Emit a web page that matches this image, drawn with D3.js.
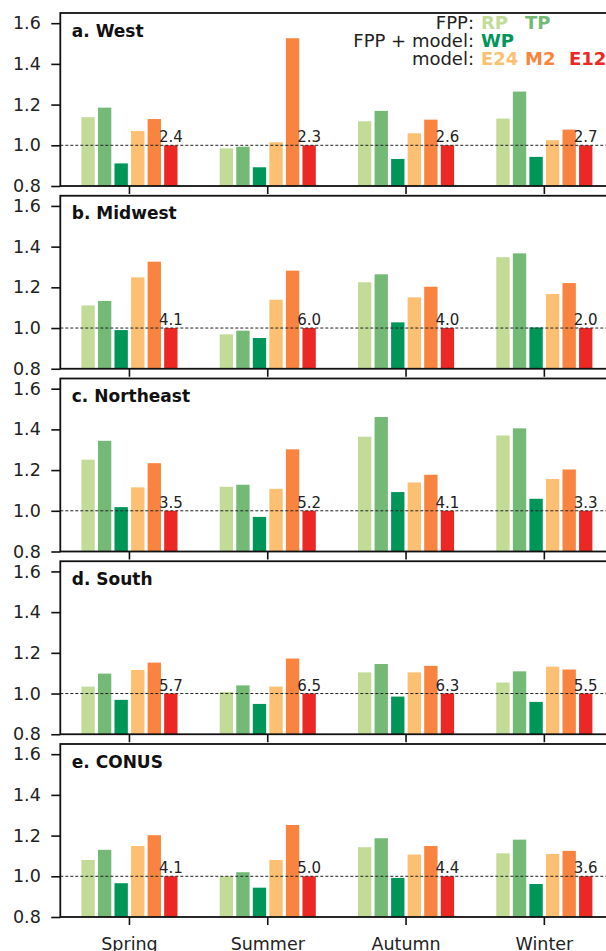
<!DOCTYPE html>
<html>
<head>
<meta charset="utf-8">
<script src="https://cdn.jsdelivr.net/npm/d3@7"></script>
<style>
  html, body { margin: 0; padding: 0; background: #fff; }
  svg { display: block; font-family: "DejaVu Sans", sans-serif; }
</style>
</head>
<body>
<svg id="chart" width="606" height="951"></svg>
<script>
// Seasons on the x axis and the six estimate types (bars in each group)
const seasons = ["Spring", "Summer", "Autumn", "Winter"];
const seriesNames = ["RP", "TP", "WP", "E24", "M2", "E12"];
const seriesColors = ["#c2dc98", "#75b977", "#00965a", "#fdbf71", "#f8843f", "#ec2825"];

// Ratios relative to E12, one row per series (RP, TP, WP, E24, M2, E12), one column per season
const west = [
  [1.138, 0.985, 1.118, 1.131],
  [1.185, 0.993, 1.169, 1.264],
  [0.911, 0.892, 0.933, 0.943],
  [1.070, 1.015, 1.059, 1.025],
  [1.129, 1.526, 1.126, 1.077],
  [1.0, 1.0, 1.0, 1.0]
];
const midwest = [
  [1.111, 0.969, 1.225, 1.348],
  [1.133, 0.987, 1.264, 1.367],
  [0.990, 0.951, 1.028, 1.003],
  [1.249, 1.139, 1.151, 1.167],
  [1.326, 1.282, 1.203, 1.221],
  [1.0, 1.0, 1.0, 1.0]
];
const northeast = [
  [1.251, 1.118, 1.364, 1.370],
  [1.344, 1.128, 1.461, 1.405],
  [1.018, 0.970, 1.092, 1.059],
  [1.115, 1.108, 1.139, 1.156],
  [1.234, 1.302, 1.177, 1.203],
  [1.0, 1.0, 1.0, 1.0]
];
const south = [
  [1.034, 1.008, 1.104, 1.054],
  [1.098, 1.040, 1.145, 1.109],
  [0.969, 0.949, 0.985, 0.959],
  [1.116, 1.034, 1.104, 1.132],
  [1.152, 1.172, 1.136, 1.118],
  [1.0, 1.0, 1.0, 1.0]
];
const conus = [
  [1.080, 1.000, 1.143, 1.113],
  [1.130, 1.020, 1.187, 1.180],
  [0.966, 0.944, 0.992, 0.962],
  [1.149, 1.080, 1.107, 1.110],
  [1.202, 1.252, 1.149, 1.125],
  [1.0, 1.0, 1.0, 1.0]
];

// Numbers printed above the E12 bar of each season
const westLabels = ["2.4", "2.3", "2.6", "2.7"];
const midwestLabels = ["4.1", "6.0", "4.0", "2.0"];
const northeastLabels = ["3.5", "5.2", "4.1", "3.3"];
const southLabels = ["5.7", "6.5", "6.3", "5.5"];
const conusLabels = ["4.1", "5.0", "4.4", "3.6"];

const panelTitles = ["a. West", "b. Midwest", "c. Northeast", "d. South", "e. CONUS"];
const yTicks = [0.8, 1.0, 1.2, 1.4, 1.6];
const yDomain = [0.8, 1.65];

const panels = [
  { title: panelTitles[0], values: west, labels: westLabels },
  { title: panelTitles[1], values: midwest, labels: midwestLabels },
  { title: panelTitles[2], values: northeast, labels: northeastLabels },
  { title: panelTitles[3], values: south, labels: southLabels },
  { title: panelTitles[4], values: conus, labels: conusLabels }
];

// Layout
const left = 60.3, right = 613.5;
const firstTop = 13, panelStep = 182.75, panelH = 173;

const svg = d3.select("#chart");

const x = d3.scaleBand().domain(seasons).range([left, right]).padding(0);
const inner = d3.scaleBand().domain(seriesNames)
  .range([-x.bandwidth() * 0.359, x.bandwidth() * 0.359]).padding(0);
const barW = inner.bandwidth() - 3.2;
const color = d3.scaleOrdinal().domain(seriesNames).range(seriesColors);

panels.forEach((p, i) => {
  const top = firstTop + i * panelStep;
  const bottom = top + panelH;
  const y = d3.scaleLinear().domain(yDomain).range([bottom, top]);
  const g = svg.append("g");

  // bars
  seriesNames.forEach((s, si) => {
    g.selectAll(null)
      .data(p.values[si].map((v, k) => ({ season: seasons[k], v })))
      .join("rect")
      .attr("x", d => x(d.season) + x.bandwidth() / 2 + inner(s) + (inner.bandwidth() - barW) / 2)
      .attr("width", barW)
      .attr("y", d => y(d.v))
      .attr("height", d => y(yDomain[0]) - y(d.v))
      .attr("fill", color(s));
  });

  // reference line at 1.0
  g.append("line")
    .attr("x1", left).attr("x2", 606)
    .attr("y1", y(1)).attr("y2", y(1))
    .attr("stroke", "#222").attr("stroke-width", 1)
    .attr("stroke-dasharray", "3,2");

  // value labels above the E12 bars
  g.selectAll(null)
    .data(p.labels.map((t, k) => ({ t, season: seasons[k], v: p.values[5][k] })))
    .join("text")
    .attr("x", d => x(d.season) + x.bandwidth() / 2 + inner("E12") + inner.bandwidth() / 2)
    .attr("y", d => y(d.v) - 3)
    .attr("text-anchor", "middle")
    .attr("font-size", 15)
    .attr("fill", "#222")
    .text(d => d.t);

  // y axis
  const yAxis = d3.axisLeft(y).tickValues(yTicks).tickFormat(d3.format(".1f"))
    .tickSize(9).tickPadding(10.5);
  const ya = g.append("g").attr("transform", `translate(${left},0)`).call(yAxis);
  ya.select(".domain").remove();
  ya.selectAll(".tick line").attr("stroke", "#111").attr("stroke-width", 1.6);
  ya.selectAll(".tick text").attr("font-size", 17.5).attr("fill", "#222")
    .attr("font-family", "DejaVu Sans");

  // x axis
  const xAxis = d3.axisBottom(x).tickSize(8).tickPadding(13);
  const xa = g.append("g").attr("transform", `translate(0,${bottom})`).call(xAxis);
  xa.select(".domain").remove();
  xa.selectAll(".tick line").attr("stroke", "#111").attr("stroke-width", 1.6);
  xa.selectAll(".tick text").attr("font-size", 17.5).attr("fill", "#222")
    .attr("font-family", "DejaVu Sans");
  if (i < panels.length - 1) xa.selectAll(".tick text").remove();

  // frame
  g.append("rect")
    .attr("x", left).attr("y", top)
    .attr("width", right - left).attr("height", panelH)
    .attr("fill", "none").attr("stroke", "#111").attr("stroke-width", 1.8);

  // panel title
  g.append("text")
    .attr("x", left + 11.5).attr("y", top + 23.7)
    .attr("font-size", 17).attr("font-weight", "bold").attr("fill", "#111")
    .text(p.title);

  // legend in the first panel
  if (i === 0) {
    const legendRows = [
      { head: "FPP:", items: [["RP", 0], ["TP", 1]] },
      { head: "FPP + model:", items: [["WP", 0]] },
      { head: "model:", items: [["E24", 0], ["M2", 1], ["E12", 2]] }
    ];
    const headX = 474, colX = [481, 525, 569];
    legendRows.forEach((r, ri) => {
      const by = top + 16.3 + ri * 17.9;
      g.append("text").attr("x", headX).attr("y", by)
        .attr("text-anchor", "end").attr("font-size", 18).attr("fill", "#222")
        .text(r.head);
      r.items.forEach(([name, c]) => {
        g.append("text").attr("x", colX[c]).attr("y", by)
          .attr("font-size", 18).attr("font-weight", "bold")
          .attr("fill", color(name))
          .text(name);
      });
    });
  }
});
</script>
</body>
</html>
